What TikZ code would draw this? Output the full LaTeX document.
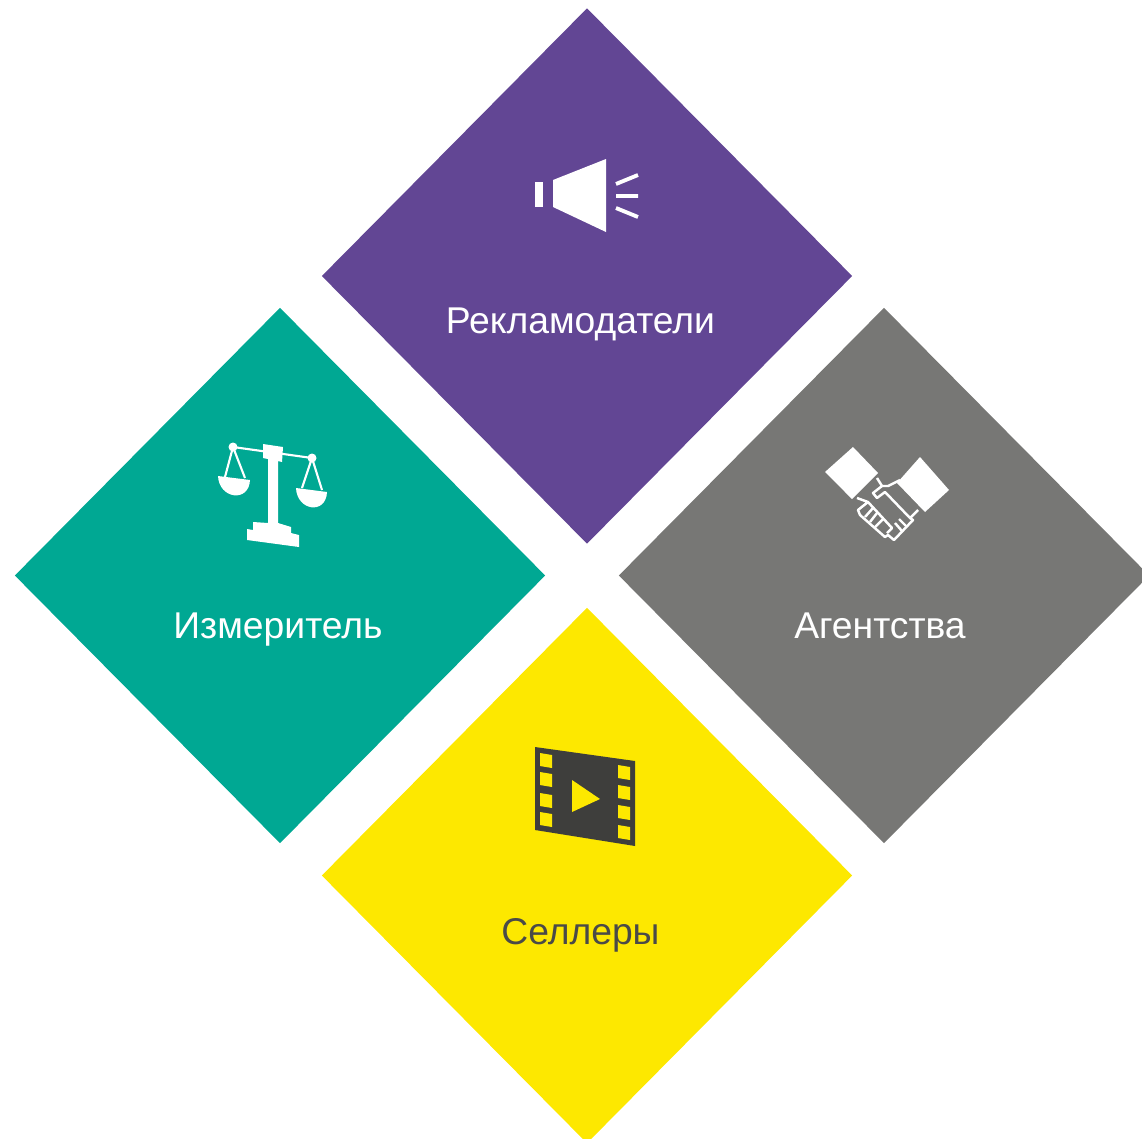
\documentclass[tikz,border=0pt]{standalone}
\usepackage{fontspec}
\setmainfont{Liberation Sans}
\usetikzlibrary{shapes.geometric}
\definecolor{tilepurple}{HTML}{624694}
\definecolor{tileteal}{HTML}{00A893}
\definecolor{tilegray}{HTML}{777775}
\definecolor{tileyellow}{HTML}{FDE800}
\definecolor{filmdark}{HTML}{3E3E3C}
\definecolor{labeldark}{HTML}{4A4A48}
\tikzstyle{tile}=[diamond,aspect=1,inner sep=0,outer sep=0,minimum width=5.3cm,minimum height=5.35cm]
\tikzstyle{tilelabel}=[font=\fontsize{10.6pt}{12pt}\selectfont,white,inner sep=0,anchor=base]
\tikzstyle{iconline}=[white,line width=1.1pt,line join=round]
\tikzstyle{stringline}=[white,line width=.6pt]
\tikzstyle{handline}=[white,line width=.7pt,line join=round]
\begin{document}
\begin{tikzpicture}[x=.01cm,y=-.01cm]
  \useasboundingbox (0,0) rectangle (1142,1139);
  \node[tile,fill=tilepurple] (advertisers) at (587,276) {};
  \node[tile,fill=tileteal] (meter) at (280,575.5) {};
  \node[tile,fill=tilegray] (agencies) at (884,575.5) {};
  \node[tile,fill=tileyellow] (sellers) at (587,875.5) {};
  \node[tilelabel] (advertiserslabel) at (580.5,333) {Рекламодатели};
  \node[tilelabel] (meterlabel) at (278,638) {Измеритель};
  \node[tilelabel] (agencieslabel) at (880,638) {Агентства};
  \node[tilelabel,text=labeldark] (sellerslabel) at (580.5,944) {Селлеры};
  % speaker
  \fill[white] (535,182) rectangle (543,207);
  \fill[white] (553,180)--(606,159)--(606,232)--(553,207)--cycle;
  \draw[iconline] (616,184)--(638,175) (616,196)--(638,196) (616,208)--(638,217);
  % scales
  \draw[stringline] (233,447)--(312,458);
  \draw[stringline] (225,477)--(233,447)--(245,478);
  \draw[stringline] (302,488)--(312,458)--(322,490);
  \fill[white] (233,447) circle (4.5) (312,458) circle (4.5);
  \fill[white] (263,444)--(283,447)--(282,462)--(278,461)--(278,523)--(291,527)--(291,533)
    --(299,535)--(299,547)--(247,540)--(247,529)--(253,530)--(253,522)--(268,523)--(268,459)--(263,458)--cycle;
  \fill[white] (218,476) .. controls (219,499) and (249,503) .. (250,480)--cycle;
  \fill[white] (296,488) .. controls (297,511) and (326,515) .. (327,492)--cycle;
  % handshake
  \fill[white] (853,447)--(878,473)--(852,499)--(825,472)--cycle;
  \fill[white] (920,457)--(949,490)--(925,512)--(897,483)--cycle;
  \draw[handline] (877,478)--(882,486)--(888,486)--(900,480);
  \draw[handline] (882,486)--(873,493)--(877,498)--(885,492)--(910,518)--(918,510);
  \draw[handline] (910,518)--(913,520)--(894,540)--(888,535)--(885,537)--(860,515)--(858,510)--(868,502)--(857,498);
  \draw[handline] (868,502)--(892,528)--(887,533);
  \draw[handline] (865,517)--(873,508) (870,522)--(877,513) (875,527)--(883,519);
  \draw[handline] (895,523)--(902,531) (899,519)--(906,526);
  % film
  \fill[filmdark] (535,747)--(635,761)--(635,846)--(535,830)--cycle;
  \foreach \y in {753,772,793,812}
    \fill[tileyellow] (540,\y)--(552,\y+2)--(552,\y+15)--(540,\y+13)--cycle;
  \foreach \y in {765,785,805,825}
    \fill[tileyellow] (618,\y)--(630,\y+2)--(630,\y+15)--(618,\y+13)--cycle;
  \fill[tileyellow] (572,780)--(600,799)--(572,812)--cycle;
\end{tikzpicture}
\end{document}
